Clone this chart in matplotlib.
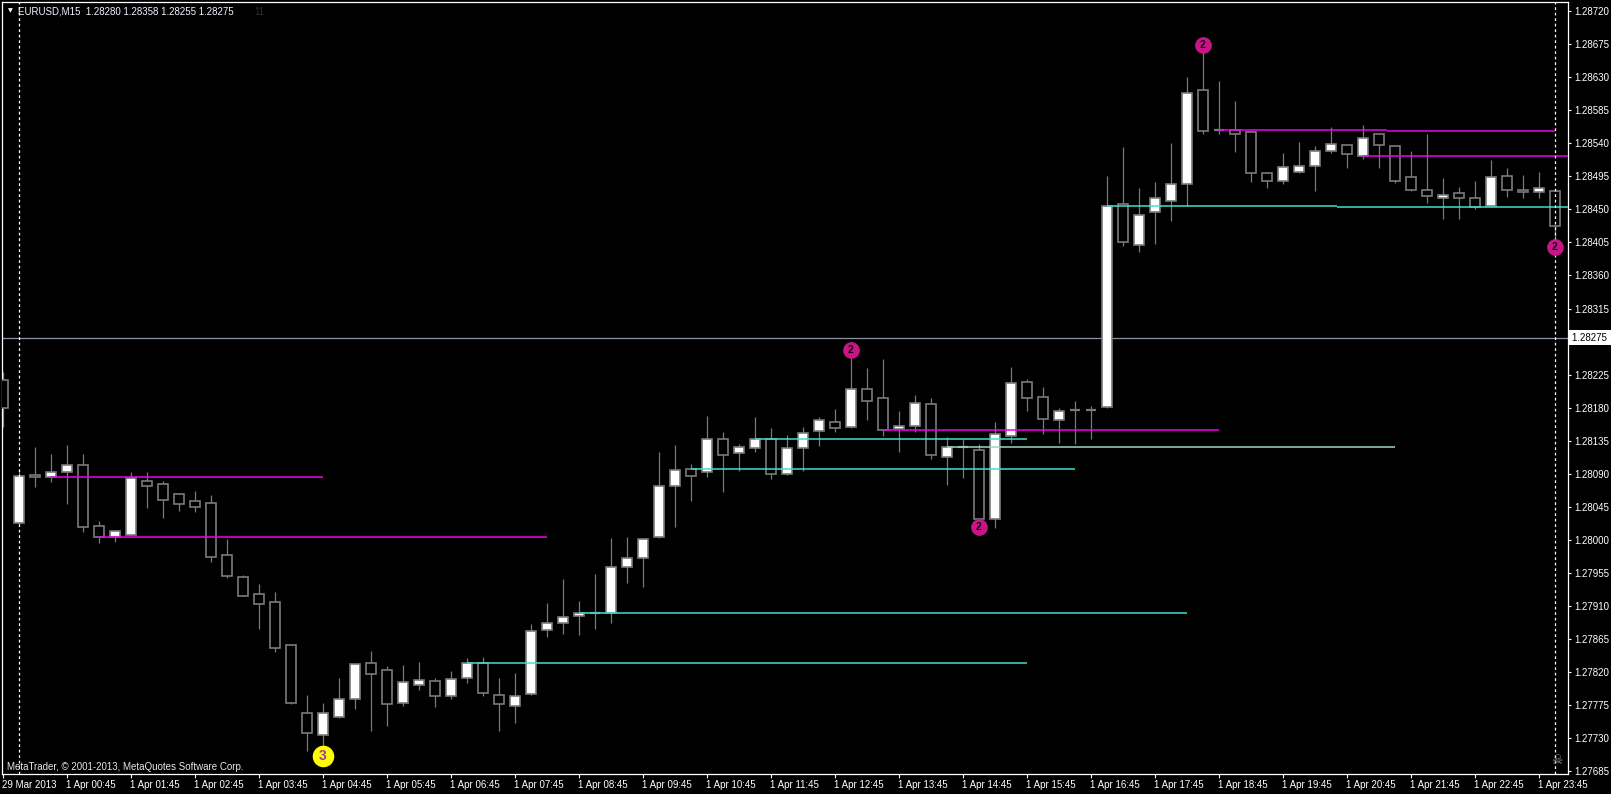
import numpy as np
import matplotlib
matplotlib.use("Agg")
import matplotlib.pyplot as plt
import matplotlib.transforms as mtransforms

plt.rcParams['font.family'] = ['Liberation Sans', 'DejaVu Sans']

# EURUSD M15, first bar is 29 Mar 2013 23:45, then 1 Apr 00:00 ... 2 Apr 00:00
bar_index = np.arange(-1, 97)

opens = [1.28218, 1.28023, 1.28088, 1.28085, 1.28093, 1.28102, 1.28019, 1.28004, 1.28007, 1.28080,
         1.28076, 1.28062, 1.28053, 1.28050, 1.27979, 1.27950, 1.27926, 1.27916, 1.27857, 1.27765,
         1.27735, 1.27759, 1.27784, 1.27832, 1.27823, 1.27778, 1.27803, 1.27808, 1.27788, 1.27812,
         1.27833, 1.27789, 1.27774, 1.27790, 1.27878, 1.27887, 1.27897, 1.27901, 1.27900, 1.27963,
         1.27976, 1.28004, 1.28073, 1.28096, 1.28092, 1.28137, 1.28118, 1.28125, 1.28137, 1.28090,
         1.28125, 1.28148, 1.28161, 1.28154, 1.28206, 1.28193, 1.28151, 1.28155, 1.28185, 1.28113,
         1.28126, 1.28123, 1.28029, 1.28142, 1.28215, 1.28194, 1.28163, 1.28177, 1.28177, 1.28181,
         1.28457, 1.28401, 1.28447, 1.28462, 1.28484, 1.28612, 1.28558, 1.28558, 1.28555, 1.28499,
         1.28488, 1.28501, 1.28509, 1.28529, 1.28537, 1.28522, 1.28552, 1.28536, 1.28494, 1.28476,
         1.28466, 1.28472, 1.28465, 1.28454, 1.28495, 1.28476, 1.28473, 1.28475]
highs = [1.28229, 1.28095, 1.28127, 1.28117, 1.28129, 1.28117, 1.28026, 1.28014, 1.28092, 1.28092,
         1.28080, 1.28062, 1.28067, 1.28061, 1.28001, 1.27952, 1.27940, 1.27929, 1.27857, 1.27789,
         1.27778, 1.27812, 1.27833, 1.27849, 1.27828, 1.27830, 1.27834, 1.27812, 1.27822, 1.27839,
         1.27841, 1.27812, 1.27819, 1.27886, 1.27914, 1.27947, 1.27917, 1.27954, 1.28003, 1.28004,
         1.28001, 1.28120, 1.28129, 1.28103, 1.28169, 1.28147, 1.28131, 1.28167, 1.28152, 1.28143,
         1.28154, 1.28167, 1.28178, 1.28248, 1.28234, 1.28246, 1.28175, 1.28197, 1.28193, 1.28140,
         1.28137, 1.28130, 1.28161, 1.28235, 1.28219, 1.28208, 1.28180, 1.28189, 1.28182, 1.28495,
         1.28535, 1.28479, 1.28487, 1.28540, 1.28630, 1.28664, 1.28625, 1.28598, 1.28555, 1.28501,
         1.28527, 1.28542, 1.28536, 1.28562, 1.28538, 1.28565, 1.28553, 1.28536, 1.28529, 1.28553,
         1.28493, 1.28480, 1.28489, 1.28517, 1.28506, 1.28497, 1.28501, 1.28475]
lows = [1.28154, 1.28022, 1.28072, 1.28079, 1.28049, 1.28011, 1.27996, 1.27997, 1.28006, 1.28043,
        1.28030, 1.28039, 1.28038, 1.27970, 1.27948, 1.27923, 1.27879, 1.27847, 1.27777, 1.27713,
        1.27718, 1.27758, 1.27770, 1.27740, 1.27747, 1.27774, 1.27796, 1.27773, 1.27783, 1.27805,
        1.27788, 1.27740, 1.27751, 1.27789, 1.27868, 1.27872, 1.27871, 1.27879, 1.27887, 1.27941,
        1.27936, 1.28003, 1.28018, 1.28053, 1.28086, 1.28065, 1.28094, 1.28120, 1.28083, 1.28089,
        1.28094, 1.28128, 1.28147, 1.28152, 1.28163, 1.28141, 1.28120, 1.28147, 1.28110, 1.28075,
        1.28084, 1.28027, 1.28016, 1.28132, 1.28175, 1.28144, 1.28132, 1.28131, 1.28137, 1.28179,
        1.28400, 1.28392, 1.28403, 1.28434, 1.28455, 1.28553, 1.28553, 1.28528, 1.28487, 1.28479,
        1.28485, 1.28500, 1.28475, 1.28527, 1.28506, 1.28519, 1.28506, 1.28486, 1.28475, 1.28459,
        1.28437, 1.28437, 1.28450, 1.28453, 1.28467, 1.28465, 1.28465, 1.28408]
closes = [1.28180, 1.28087, 1.28086, 1.28093, 1.28102, 1.28017, 1.28004, 1.28012, 1.28084, 1.28074,
          1.28055, 1.28049, 1.28045, 1.27977, 1.27951, 1.27924, 1.27913, 1.27853, 1.27778, 1.27737,
          1.27764, 1.27784, 1.27831, 1.27817, 1.27776, 1.27806, 1.27809, 1.27788, 1.27810, 1.27833,
          1.27791, 1.27776, 1.27787, 1.27876, 1.27887, 1.27895, 1.27901, 1.27901, 1.27963, 1.27975,
          1.28001, 1.28074, 1.28095, 1.28087, 1.28137, 1.28116, 1.28127, 1.28138, 1.28090, 1.28125,
          1.28146, 1.28163, 1.28152, 1.28205, 1.28189, 1.28150, 1.28155, 1.28186, 1.28115, 1.28126,
          1.28126, 1.28028, 1.28144, 1.28213, 1.28193, 1.28164, 1.28175, 1.28177, 1.28177, 1.28454,
          1.28405, 1.28442, 1.28465, 1.28484, 1.28609, 1.28556, 1.28558, 1.28552, 1.28499, 1.28489,
          1.28507, 1.28509, 1.28529, 1.28539, 1.28526, 1.28547, 1.28537, 1.28488, 1.28476, 1.28468,
          1.28470, 1.28465, 1.28453, 1.28494, 1.28476, 1.28473, 1.28479, 1.28427]

# support / resistance lines: level, first bar, last bar
mag_level = [1.28085, 1.28004, 1.28149, 1.28558, 1.28556, 1.28522]
mag_start = [2, 5, 54, 75, 85.5, 84]
mag_end = [19, 33, 75, 85.5, 96, 98]
cyan_level = [1.27833, 1.27901, 1.28096, 1.28138, 1.28126, 1.28454, 1.28453]
cyan_start = [28, 35, 42, 46, 58, 68, 82.4]
cyan_end = [63, 73, 66, 63, 86, 82.4, 98]
cyan_color = ['#40e0d0', '#40e0d0', '#40e0d0', '#40e0d0', '#9fd6c8', '#40e0d0', '#40e0d0']

# wingdings signals
sig2_bar = [52, 60, 74, 96]
sig2_price = [1.28258, 1.28017, 1.28674, 1.28399]
sig3_bar = [19]
sig3_price = [1.27706]

price_ticks = [1.28720, 1.28675, 1.28630, 1.28585, 1.28540, 1.28495, 1.28450, 1.28405, 1.28360,
               1.28315, 1.28270, 1.28225, 1.28180, 1.28135, 1.28090, 1.28045, 1.28000, 1.27955,
               1.27910, 1.27865, 1.27820, 1.27775, 1.27730, 1.27685]
time_ticks = [-1, 3, 7, 11, 15, 19, 23, 27, 31, 35, 39, 43, 47, 51, 55, 59, 63, 67, 71, 75, 79, 83, 87, 91, 95]
time_labels = ['29 Mar 2013', '1 Apr 00:45', '1 Apr 01:45', '1 Apr 02:45', '1 Apr 03:45', '1 Apr 04:45',
               '1 Apr 05:45', '1 Apr 06:45', '1 Apr 07:45', '1 Apr 08:45', '1 Apr 09:45', '1 Apr 10:45',
               '1 Apr 11:45', '1 Apr 12:45', '1 Apr 13:45', '1 Apr 14:45', '1 Apr 15:45', '1 Apr 16:45',
               '1 Apr 17:45', '1 Apr 18:45', '1 Apr 19:45', '1 Apr 20:45', '1 Apr 21:45', '1 Apr 22:45',
               '1 Apr 23:45']
day_breaks = [0, 96]
bid = 1.28275

grey = '#7a7a7a'
fs = 7

fig = plt.figure(figsize=(16.11, 7.94), dpi=100, facecolor='black')
ax = fig.add_axes([2 / 1611, 20 / 794, 1566 / 1611, 772 / 794])
ax.set_facecolor('black')
ax.set_xlim(-1.0625, 96.8125)
ax.set_ylim(1.276813, 1.287323)

o = np.array(opens)
h = np.array(highs)
l = np.array(lows)
c = np.array(closes)

# wicks
ax.vlines(bar_index, l, h, color=grey, lw=0.9, zorder=2)
# bodies
bull = c > o
bear = c < o
doji = c == o
ax.bar(bar_index[bull], (c - o)[bull], bottom=o[bull], width=0.62, facecolor='white',
       edgecolor=grey, linewidth=1.2, zorder=3)
ax.bar(bar_index[bear], (o - c)[bear], bottom=c[bear], width=0.62, facecolor='black',
       edgecolor=grey, linewidth=1.2, zorder=3)
ax.hlines(o[doji], bar_index[doji] - 0.31, bar_index[doji] + 0.31, color=grey, lw=1.6, zorder=3)

# levels
ax.hlines(mag_level, mag_start, mag_end, color='#f000f0', lw=1.1, zorder=4)
for lev, s, e, col in zip(cyan_level, cyan_start, cyan_end, cyan_color):
    ax.hlines(lev, s, e, color=col, lw=1.1, zorder=4)

# bid line and day separators
ax.axhline(bid, color='#8a94a2', lw=0.9, zorder=1)
for d in day_breaks:
    ax.axvline(d, color='white', lw=0.9, linestyle=(0, (2.2, 2.2)), zorder=5)

# signals
ax.plot(sig2_bar, sig2_price, 'o', ms=11, color='#c71585', mec='#c71585', zorder=7, clip_on=False)
for xb, yp in zip(sig2_bar, sig2_price):
    ax.text(xb, yp, '2', color='#1a0010', fontsize=7.5, fontweight='bold', ha='center', va='center', zorder=8)
ax.plot(sig3_bar, sig3_price, 'o', ms=14.5, color='#ffff00', zorder=7, clip_on=False)
for xb, yp in zip(sig3_bar, sig3_price):
    ax.text(xb, yp, '3', color='#a03c9c', fontsize=10, fontweight='bold', ha='center', va='center', zorder=8)

# axes look
for sp in ax.spines.values():
    sp.set_color('white')
    sp.set_linewidth(0.9)
ax.yaxis.tick_right()
ax.set_yticks(price_ticks)
# the 1.28270 label sits under the bid tag
ax.set_yticklabels(['' if p == 1.28270 else '%.5f' % p for p in price_ticks])
ax.tick_params(axis='y', colors='white', length=2.5, width=0.8, pad=2, labelsize=fs)
ax.set_xticks(time_ticks)
ax.set_xticklabels(time_labels)
ax.tick_params(axis='x', colors='white', length=3, width=0.8, pad=1.5, labelsize=fs)
offset = mtransforms.ScaledTranslation(-1 / 100, 0, fig.dpi_scale_trans)
for lab in ax.get_xticklabels():
    lab.set_horizontalalignment('left')
    lab.set_transform(lab.get_transform() + offset)

# current price tag
trans = mtransforms.blended_transform_factory(ax.transAxes, ax.transData)
ax.text(1.0025, bid, '1.28275  ', transform=trans, color='black', fontsize=fs, ha='left', va='center',
        bbox=dict(boxstyle='square,pad=0.25', fc='white', ec='none'), clip_on=False, zorder=9)

# header and footer texts
fig.text(10 / 1611, 1 - 11 / 794, '▼', color='white', fontsize=4.5, ha='center', va='center',
         family='DejaVu Sans')
fig.text(18 / 1611, 1 - 11 / 794, 'EURUSD,M15  1.28280 1.28358 1.28255 1.28275', color='#f0f4ff',
         fontsize=fs, ha='left', va='center')
fig.text(254 / 1611, 1 - 12 / 794, '11', color='#253535', fontsize=fs, ha='left', va='center')
fig.text(7 / 1611, 1 - 767 / 794, 'MetaTrader, © 2001-2013, MetaQuotes Software Corp.', color='#e8e8e8',
         fontsize=fs, ha='left', va='center')
fig.text(1557 / 1611, 1 - 761 / 794, '☠', color='#8a8a8a', fontsize=9, ha='center', va='center',
         family='DejaVu Sans')

fig.savefig('out.png', dpi=100, facecolor='black')
